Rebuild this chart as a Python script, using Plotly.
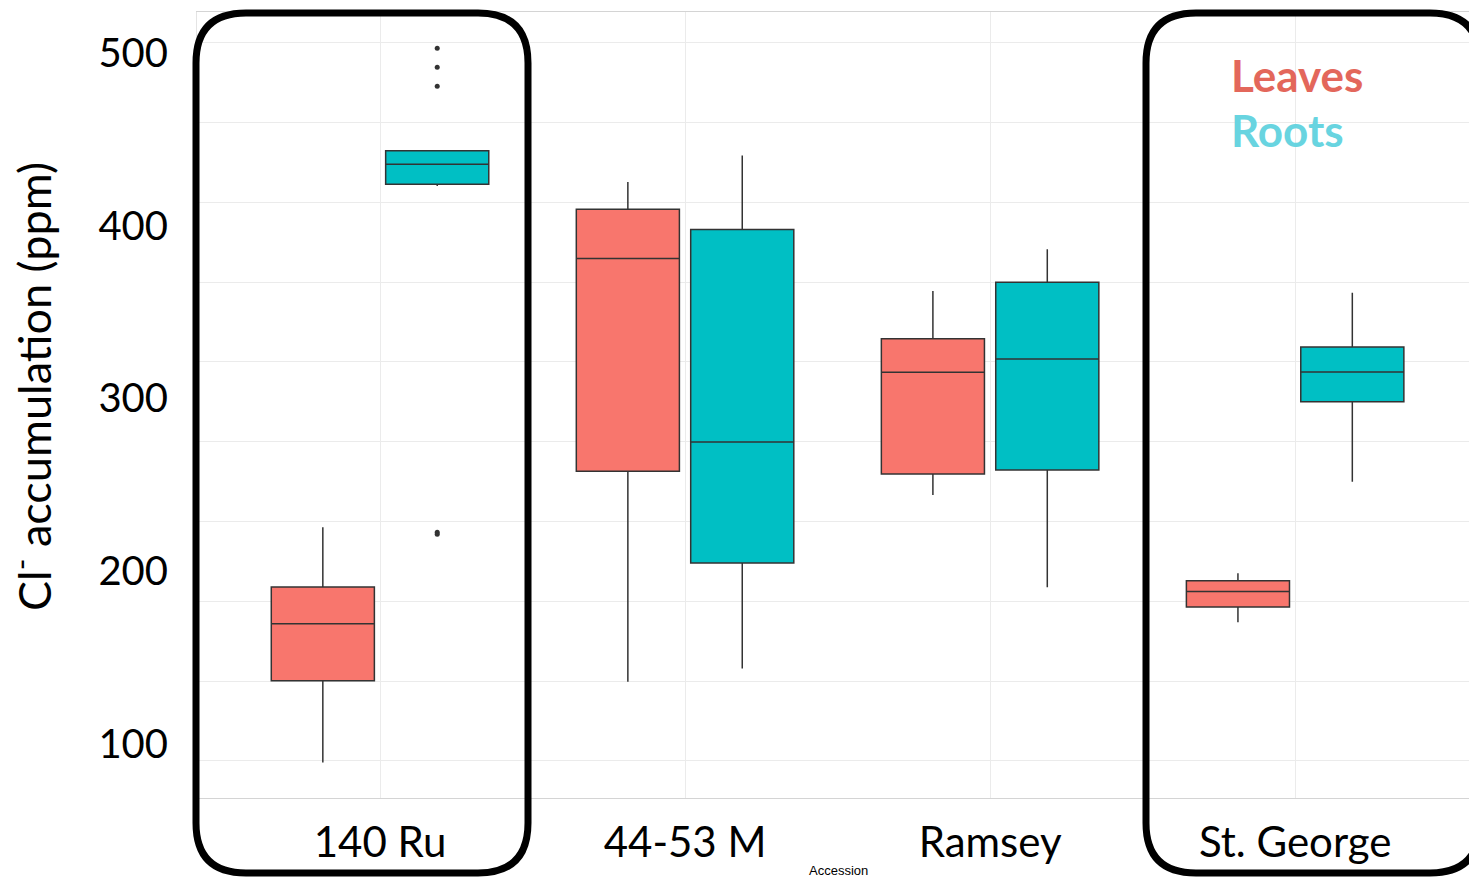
import plotly.graph_objects as go

# ---------------- data ----------------
accessions = ["140 Ru", "44-53 M", "Ramsey", "St. George"]
y_tick_values = [100, 200, 300, 400, 500]
y_tick_labels = ["100", "200", "300", "400", "500"]

leaves_low = [89.2, 136.0, 244.1, 170.4]
leaves_q1 = [136.6, 257.8, 256.3, 179.3]
leaves_med = [169.6, 381.0, 315.2, 188.2]
leaves_q3 = [190.9, 409.5, 334.6, 194.5]
leaves_high = [225.4, 425.3, 362.2, 198.8]

roots_low = [423.0, 143.6, 190.7, 251.8]
roots_q1 = [424.0, 204.7, 258.6, 298.1]
roots_med = [435.6, 274.8, 322.9, 315.3]
roots_q3 = [443.4, 397.8, 367.3, 329.8]
roots_high = [443.4, 440.7, 386.4, 361.2]

roots_outlier_acc = ["140 Ru", "140 Ru", "140 Ru", "140 Ru", "140 Ru"]
roots_outliers = [502.7, 491.7, 480.7, 222.6, 221.4]

# ---------------- styling ----------------
LEAF_FILL = "#F8766D"
ROOT_FILL = "#00BFC4"
DODGE = 0.1875
BOX_W = 0.338

W, H = 1469, 879
ML, MR, MT, MB = 197, 0, 12, 81
PW, PH = W - ML - MR, H - MT - MB

idx = {a: i for i, a in enumerate(accessions)}


def px(xp):
    return (xp - ML) / PW


def py(yp):
    return (H - MB - yp) / PH


def rounded_rect(x0, y0, x1, y1, r):
    rx = r / PW
    ry = r / PH
    X0, X1 = px(x0), px(x1)
    Y0, Y1 = py(y0), py(y1)  # Y0 top, Y1 bottom
    return (
        f"M {X0 + rx},{Y0} L {X1 - rx},{Y0} Q {X1},{Y0} {X1},{Y0 - ry} "
        f"L {X1},{Y1 + ry} Q {X1},{Y1} {X1 - rx},{Y1} "
        f"L {X0 + rx},{Y1} Q {X0},{Y1} {X0},{Y1 + ry} "
        f"L {X0},{Y0 - ry} Q {X0},{Y0} {X0 + rx},{Y0} Z"
    )


fig = go.Figure()

fig.add_trace(go.Box(
    name="Leaves",
    x=[i - DODGE for i in range(len(accessions))],
    q1=leaves_q1, median=leaves_med, q3=leaves_q3,
    lowerfence=leaves_low, upperfence=leaves_high,
    width=BOX_W, whiskerwidth=0, boxpoints=False,
    fillcolor=LEAF_FILL, line=dict(color="#333333", width=1.5),
    showlegend=False,
))
fig.add_trace(go.Box(
    name="Roots",
    x=[i + DODGE for i in range(len(accessions))],
    q1=roots_q1, median=roots_med, q3=roots_q3,
    lowerfence=roots_low, upperfence=roots_high,
    width=BOX_W, whiskerwidth=0, boxpoints=False,
    fillcolor=ROOT_FILL, line=dict(color="#333333", width=1.5),
    showlegend=False,
))
fig.add_trace(go.Scatter(
    x=[idx[a] + DODGE for a in roots_outlier_acc],
    y=roots_outliers,
    mode="markers",
    marker=dict(color="#333333", size=5),
    showlegend=False,
))

shapes = [
    dict(type="path", xref="paper", yref="paper",
         path=rounded_rect(196, 13, 528, 873, 50),
         line=dict(color="black", width=7), layer="above"),
    dict(type="path", xref="paper", yref="paper",
         path=rounded_rect(1146, 13, 1480, 873, 50),
         line=dict(color="black", width=7), layer="above"),
]

annotations = [
    dict(text="Leaves", x=px(1229), y=py(75), xref="paper", yref="paper",
         xanchor="left", yanchor="middle", showarrow=False,
         font=dict(family="Lato", size=44, color="#E3675B", weight="bold")),
    dict(text="Roots", x=px(1229), y=py(130), xref="paper", yref="paper",
         xanchor="left", yanchor="middle", showarrow=False,
         font=dict(family="Lato", size=44, color="#68D4E0", weight="bold")),
    dict(text="Cl<sup>-</sup> accumulation (ppm)", x=px(31), y=py(387),
         xref="paper", yref="paper", textangle=-90,
         xanchor="center", yanchor="middle", showarrow=False,
         font=dict(family="Lato", size=45, color="black")),
    dict(text="Accession", x=px(838), y=py(870), xref="paper", yref="paper",
         xanchor="center", yanchor="middle", showarrow=False,
         font=dict(family="Liberation Sans", size=13, color="black")),
]

fig.update_layout(
    width=W, height=H,
    margin=dict(l=ML, r=MR, t=MT, b=MB, pad=0),
    paper_bgcolor="white", plot_bgcolor="white",
    shapes=shapes, annotations=annotations,
    xaxis=dict(
        range=[-0.6, 3.57], tickmode="array",
        tickvals=list(range(len(accessions))), ticktext=accessions,
        showgrid=True, gridcolor="#ebebeb", gridwidth=1,
        zeroline=False, showline=True, linecolor="#d4d4d4", mirror=True,
        ticks="", ticklabelstandoff=8,
        tickfont=dict(family="Lato", size=42, color="black"),
    ),
    yaxis=dict(
        range=[68.7, 523.7], tickmode="array",
        tickvals=y_tick_values, ticktext=y_tick_labels,
        showgrid=False, zeroline=False,
        showline=True, linecolor="#e4e4e4", mirror=True,
        ticks="", ticklabelstandoff=20,
        tickfont=dict(family="Lato", size=40, color="black"),
        minor=dict(tickmode="linear", tick0=90.2, dtick=46.2,
                   showgrid=True, gridcolor="#ebebeb", gridwidth=1),
    ),
)

fig.write_html(
    "out.html",
    config={"displayModeBar": False},
    post_script="document.body.style.margin='0';document.body.style.overflow='hidden';",
)
